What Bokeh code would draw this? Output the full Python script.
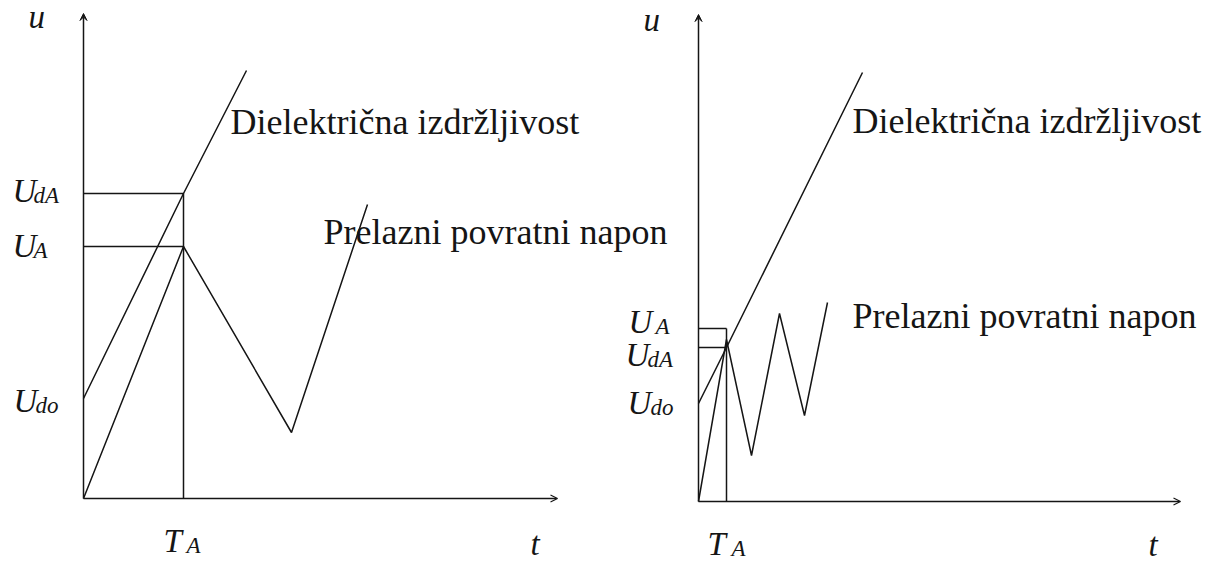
from bokeh.plotting import figure
from bokeh.models import Range1d, Arrow, VeeHead, OpenHead
from bokeh.core.properties import value
from bokeh.embed import file_html
from bokeh.resources import INLINE

# ---- left diagram: slow recovery voltage, no re-strike ----
T_A_1 = 1.0
U_do_1 = 1.0
U_dA_1 = 3.05
U_A_1 = 2.52
diel_t_1 = [0.0, T_A_1, 1.63]
diel_u_1 = [U_do_1, U_dA_1, 4.28]
trv_t_1 = [0.0, T_A_1, 2.08, 2.84]
trv_u_1 = [0.0, U_A_1, 0.66, 2.94]

# ---- right diagram: fast oscillating recovery voltage ----
T_A_2 = 0.28
U_do_2 = 0.98
U_dA_2 = 1.54
U_A_2 = 1.73
diel_t_2 = [0.0, T_A_2, 1.64]
diel_u_2 = [U_do_2, U_dA_2, 4.29]
trv_t_2 = [0.0, T_A_2, 0.53, 0.81, 1.06, 1.29]
trv_u_2 = [0.0, 1.62, 0.46, 1.88, 0.86, 1.99]

INK = "#151515"
LW = 1.5
TEXT_FONT = value("Liberation Serif")
MATH_SIZE = value("33px")
SUB_SIZE = value("23px")
NAME_SIZE = value("36px")
# raise text so that its baseline sits where it is placed
LIFT = 0.12

# one canvas, two coordinate systems (left and right diagram)
p = figure(width=1208, height=563, x_range=Range1d(-0.83, 11.25),
           y_range=Range1d(-0.65, 4.98), output_backend="svg",
           toolbar_location=None, min_border=0)
p.extra_x_ranges = {"rx": Range1d(-6.98, 5.10)}
p.extra_y_ranges = {"ry": Range1d(-0.62, 5.01)}
p.axis.visible = False
p.grid.visible = False
p.outline_line_color = None
p.background_fill_color = "white"
p.border_fill_color = "white"


def ranges(side):
    if side == "right":
        return dict(x_range_name="rx", y_range_name="ry")
    return {}


def axes(side, x_end, y_end):
    r = ranges(side)
    p.add_layout(Arrow(x_start=0, y_start=0, x_end=0, y_end=y_end,
                       line_color=INK, line_width=LW,
                       end=VeeHead(size=7, fill_color=INK, line_color=INK), **r))
    p.add_layout(Arrow(x_start=0, y_start=0, x_end=x_end, y_end=0,
                       line_color=INK, line_width=LW,
                       end=OpenHead(size=7, line_color=INK, line_width=1.2), **r))


def draw(side, T_A, U_do, U_dA, U_A, diel_t, diel_u, trv_t, trv_u):
    r = ranges(side)
    p.line(diel_t, diel_u, line_color=INK, line_width=LW, **r)
    p.line(trv_t, trv_u, line_color=INK, line_width=LW, **r)
    # markers for U_A and U_dA at the instant T_A
    top = max(U_A, U_dA)
    p.segment(x0=[0, 0, T_A], y0=[U_dA, U_A, 0],
              x1=[T_A, T_A, T_A], y1=[U_dA, U_A, top],
              line_color=INK, line_width=LW, **r)


def math_label(side, x, y, main, sub=None, sub_dx=0.0):
    r = ranges(side)
    p.text(x=[x], y=[y + LIFT], text=[main], text_font=TEXT_FONT,
           text_font_style="italic", text_font_size=MATH_SIZE,
           text_color=INK, text_align="left", text_baseline="alphabetic", **r)
    if sub:
        p.text(x=[x + sub_dx], y=[y - 0.05 + LIFT], text=[sub],
               text_font=TEXT_FONT, text_font_style="italic",
               text_font_size=SUB_SIZE, text_color=INK,
               text_align="left", text_baseline="alphabetic", **r)


def name_label(side, x, y, s):
    r = ranges(side)
    p.text(x=[x], y=[y + LIFT], text=[s], text_font=TEXT_FONT,
           text_font_size=NAME_SIZE, text_color=INK,
           text_align="left", text_baseline="alphabetic", **r)


# left diagram
axes("left", 4.74, 4.85)
draw("left", T_A_1, U_do_1, U_dA_1, U_A_1, diel_t_1, diel_u_1, trv_t_1, trv_u_1)
math_label("left", -0.55, 4.70, "u")
math_label("left", -0.71, U_dA_1 - 0.09, "U", "dA", 0.21)
math_label("left", -0.71, U_A_1 - 0.11, "U", "A", 0.21)
math_label("left", -0.70, U_do_1 - 0.14, "U", "do", 0.22)
math_label("left", T_A_1 - 0.20, -0.54, "T", "A", 0.23)
math_label("left", 4.47, -0.57, "t")
name_label("left", 1.47, 3.65, "Dielektrična izdržljivost")
name_label("left", 2.40, 2.55, "Prelazni povratni napon")

# right diagram
axes("right", 4.82, 4.87)
draw("right", T_A_2, U_do_2, U_dA_2, U_A_2, diel_t_2, diel_u_2, trv_t_2, trv_u_2)
math_label("right", -0.55, 4.70, "u")
math_label("right", -0.70, U_A_2 - 0.05, "U", "A", 0.27)
math_label("right", -0.73, U_dA_2 - 0.19, "U", "dA", 0.22)
math_label("right", -0.71, U_do_2 - 0.11, "U", "do", 0.23)
math_label("right", T_A_2 - 0.19, -0.54, "T", "A", 0.24)
math_label("right", 4.50, -0.55, "t")
name_label("right", 1.54, 3.69, "Dielektrična izdržljivost")
name_label("right", 1.54, 1.74, "Prelazni povratni napon")

open("out.html", "w").write(file_html(p, INLINE))
